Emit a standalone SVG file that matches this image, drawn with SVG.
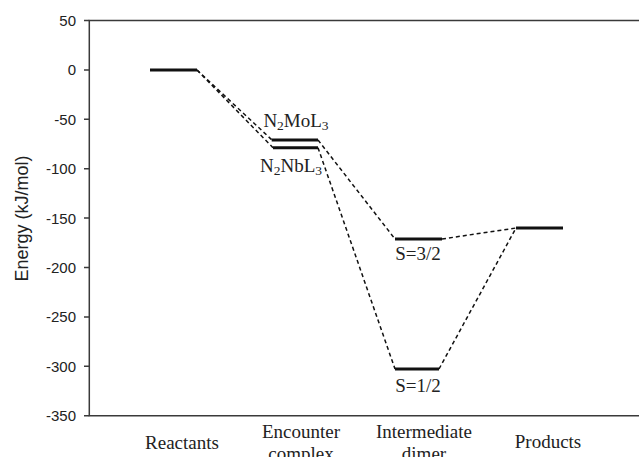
<svg xmlns="http://www.w3.org/2000/svg" width="639" height="457" viewBox="0 0 639 457">
<style>
.axis{stroke:#3a3a3a;stroke-width:1.5;fill:none}
.tick{font-family:"Liberation Sans",Arial,sans-serif;font-size:15px;fill:#222;text-anchor:end}
.lvl{stroke:#111;stroke-width:3;fill:none}
.conn{stroke:#111;stroke-width:1.5;stroke-dasharray:4 3;fill:none}
.lab{font-family:"Liberation Serif","Times New Roman",serif;font-size:19px;fill:#222;text-anchor:middle}
.cat{font-family:"Liberation Serif","Times New Roman",serif;font-size:19px;fill:#222;text-anchor:middle}
.sub{font-size:13.5px}
</style>
<rect width="639" height="457" fill="#fff"/>
<g id="axes">
<path class="axis" d="M639 20.5H89.3V415.7H639"/>
<path class="axis" d="M84 20.5H89.3M84 69.9H89.3M84 119.3H89.3M84 168.7H89.3M84 218.1H89.3M84 267.5H89.3M84 316.9H89.3M84 366.3H89.3M84 415.7H89.3"/>
<g class="tick">
<text x="76" y="26">50</text>
<text x="76" y="75.4">0</text>
<text x="76" y="124.8">-50</text>
<text x="76" y="174.2">-100</text>
<text x="76" y="223.6">-150</text>
<text x="76" y="273">-200</text>
<text x="76" y="322.4">-250</text>
<text x="76" y="371.8">-300</text>
<text x="76" y="421.2">-350</text>
</g>
<text transform="translate(28 218.5) rotate(-90)" font-family="Liberation Sans, Arial, sans-serif" font-size="18" fill="#222" text-anchor="middle">Energy (kJ/mol)</text>
<g class="cat">
<text x="182" y="449">Reactants</text>
<text x="301" y="437.5">Encounter</text>
<text x="301" y="459.5">complex</text>
<text x="424" y="437.5">Intermediate</text>
<text x="424" y="459.5">dimer</text>
<text x="548" y="448">Products</text>
</g>
</g>
<g id="connectors">
<path class="conn" d="M197 70L272 140"/>
<path class="conn" d="M197 70L273 147.7"/>
<path class="conn" d="M318 140L395 239"/>
<path class="conn" d="M318 147.7L395 369"/>
<path class="conn" d="M442 239L516 228"/>
<path class="conn" d="M439 369L516 228"/>
</g>
<g id="reactants">
<path class="lvl" d="M150 70H197"/>
</g>
<g id="encounter-mo">
<path class="lvl" d="M271.7 140H318"/>
<text class="lab" x="296" y="126.7">N<tspan class="sub" dy="3">2</tspan><tspan dy="-3">MoL</tspan><tspan class="sub" dy="3">3</tspan></text>
</g>
<g id="encounter-nb">
<path class="lvl" d="M273 147.7H318"/>
<text class="lab" x="291" y="172.3">N<tspan class="sub" dy="3">2</tspan><tspan dy="-3">NbL</tspan><tspan class="sub" dy="3">3</tspan></text>
</g>
<g id="dimer-s32">
<path class="lvl" d="M395 239H442"/>
<text class="lab" x="418" y="260">S=3/2</text>
</g>
<g id="dimer-s12">
<path class="lvl" d="M395 369H439"/>
<text class="lab" x="418" y="392">S=1/2</text>
</g>
<g id="products">
<path class="lvl" d="M516 228H563"/>
</g>
</svg>
